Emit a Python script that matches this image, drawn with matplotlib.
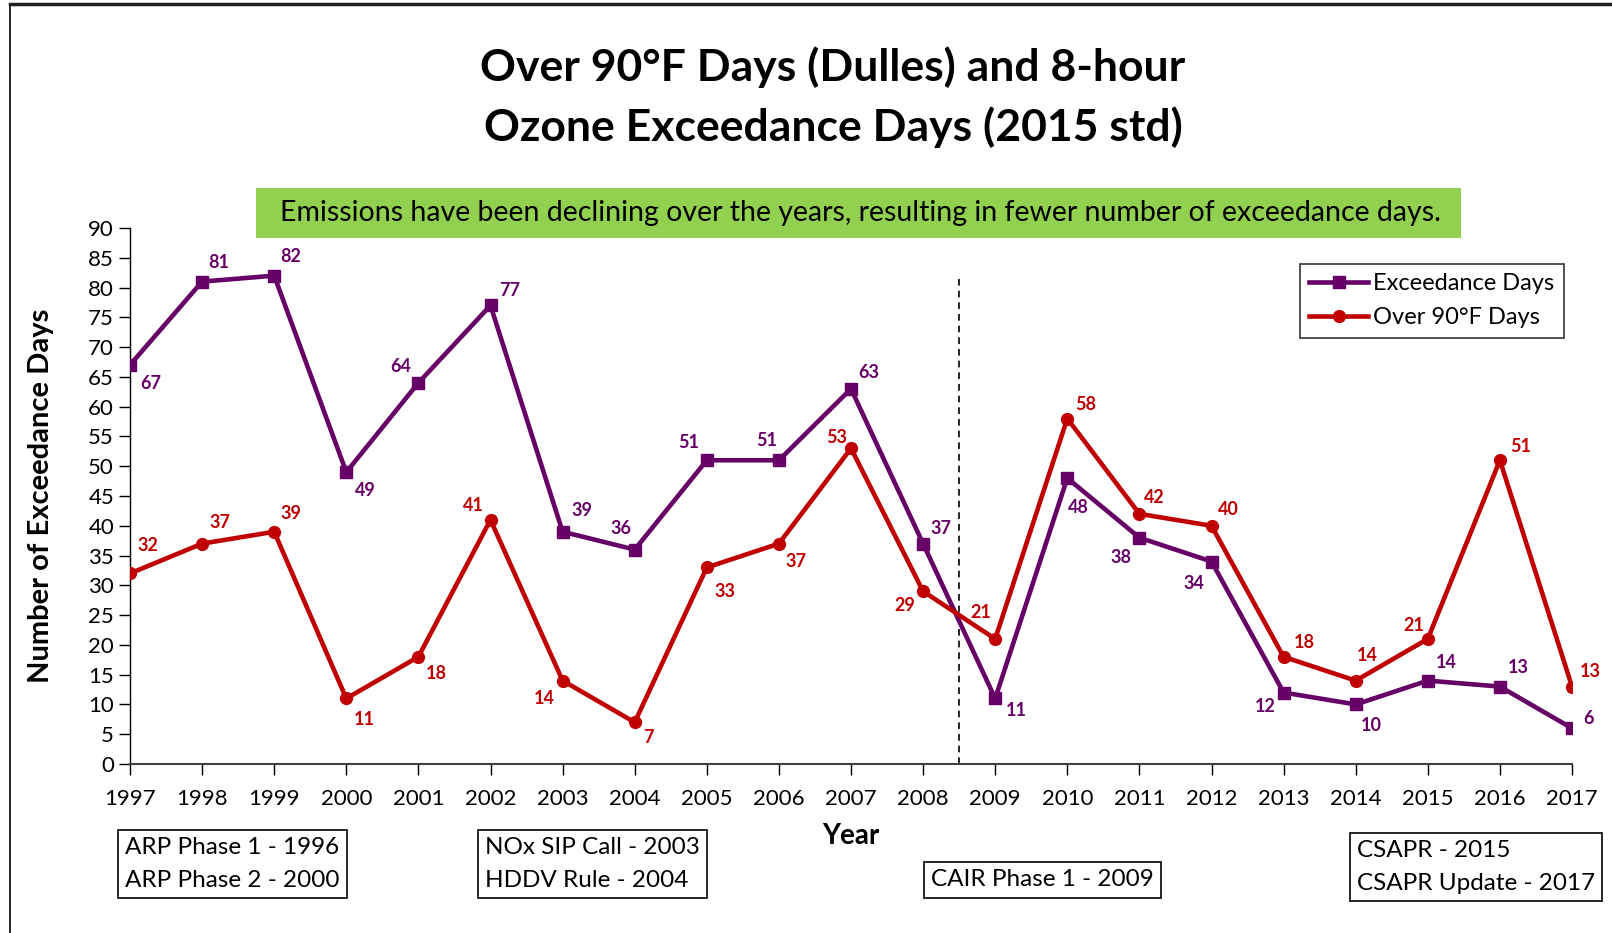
import matplotlib.pyplot as plt
from matplotlib.lines import Line2D

years = list(range(1997, 2018))
exceedance = [67, 81, 82, 49, 64, 77, 39, 36, 51, 51, 63, 37, 11, 48, 38, 34, 12, 10, 14, 13, 6]
over90 = [32, 37, 39, 11, 18, 41, 14, 7, 33, 37, 53, 29, 21, 58, 42, 40, 18, 14, 21, 51, 13]

# label offsets in points (dx, dy)
exc_off = [(15, -13), (12, 14), (12, 14), (14, -13), (-13, 12), (14, 11), (14, 15), (-10, 15),
           (-13, 13), (-9, 14), (13, 12), (13, 11), (15, -9), (8, -21), (-13, -14), (-13, -16),
           (-13, -10), (11, -15), (13, 13), (13, 14), (12, 7)]
hot_off = [(13, 20), (13, 15), (12, 13), (13, -15), (13, -12), (-12, 10), (-13, -13), (10, -11),
           (13, -17), (12, -13), (-10, 8), (-13, -10), (-10, 19), (13, 10), (11, 12), (12, 12),
           (15, 10), (8, 18), (-10, 10), (15, 10), (13, 11)]

regs = [("ARP Phase 1 - 1996\nARP Phase 2 - 2000", 125, 864),
        ("NOx SIP Call - 2003\nHDDV Rule - 2004", 485, 864),
        ("CAIR Phase 1 - 2009", 931, 880),
        ("CSAPR - 2015\nCSAPR Update - 2017", 1357, 867)]

purple = '#660066'
red = '#C00000'
plt.rcParams['font.family'] = ['Lato', 'DejaVu Sans']

fig = plt.figure(figsize=(16.12, 9.33), dpi=100)
ax = fig.add_axes([130 / 1612, 1 - 764 / 933, (1572 - 130) / 1612, (764 - 228) / 933])

ax.plot(years, exceedance, color=purple, lw=3.3, marker='s', ms=9, label='Exceedance Days', zorder=3)
ax.plot(years, over90, color=red, lw=3.3, marker='o', ms=8.5, label='Over 90°F Days', zorder=3)
ax.plot([2008.5, 2008.5], [0, 82], color='black', lw=1.2, ls=(0, (4, 3)))

for x, y, o in zip(years, exceedance, exc_off):
    ax.annotate(str(y), (x, y), xytext=o, textcoords='offset points', ha='center', va='center',
                color=purple, fontsize=13, fontweight='bold')
for x, y, o in zip(years, over90, hot_off):
    ax.annotate(str(y), (x, y), xytext=o, textcoords='offset points', ha='center', va='center',
                color=red, fontsize=13, fontweight='bold')

ax.set_xlim(1997, 2017)
ax.set_ylim(0, 90)
ax.set_yticks(range(0, 91, 5))
ax.set_xticks(years)
ax.tick_params(axis='both', labelsize=16, length=8, width=1, direction='out')
ax.tick_params(axis='x', pad=10)
for s in ['top', 'right']:
    ax.spines[s].set_visible(False)
ax.spines['left'].set_linewidth(1)
ax.spines['bottom'].set_linewidth(1.5)
ax.spines['bottom'].set_color('#404040')
ax.set_ylabel('Number of Exceedance Days', fontsize=21, fontweight='bold')
ax.yaxis.set_label_coords(-0.053, 0.5)

fig.text(851 / 1612, 1 - 836 / 933, 'Year', ha='center', va='center', fontsize=20, fontweight='bold')

fig.text(833 / 1612, 1 - 67 / 933, 'Over 90°F Days (Dulles) and 8-hour', ha='center', va='center',
         fontsize=32, fontweight='bold')
fig.text(833 / 1612, 1 - 127 / 933, 'Ozone Exceedance Days (2015 std)', ha='center', va='center',
         fontsize=32, fontweight='bold')

fig.patches.append(plt.Rectangle((256 / 1612, 1 - 238 / 933), (1461 - 256) / 1612, 50 / 933,
                                 transform=fig.transFigure, facecolor='#92D050', edgecolor='none'))
fig.text(860 / 1612, 1 - 213 / 933,
         'Emissions have been declining over the years, resulting in fewer number of exceedance days.',
         ha='center', va='center', fontsize=20.5)

handles = [Line2D([], [], color=purple, lw=3.3, marker='s', ms=9),
           Line2D([], [], color=red, lw=3.3, marker='o', ms=8.5)]
leg = ax.legend(handles, ['Exceedance Days', 'Over 90°F Days'], loc='upper left',
                bbox_to_anchor=(1300 / 1612, 1 - 264 / 933), bbox_transform=fig.transFigure,
                fontsize=17, frameon=True, fancybox=False, handlelength=2.5, handletextpad=0.2,
                borderpad=0.4, labelspacing=0.55, borderaxespad=0)
leg.get_frame().set_edgecolor('black')
leg.get_frame().set_linewidth(1.2)

for txt, x, y in regs:
    fig.text(x / 1612, 1 - y / 933, txt, ha='left', va='center', fontsize=17.5, linespacing=1.7,
             bbox=dict(boxstyle='square,pad=0.3', facecolor='white', edgecolor='black', lw=1.2))

# outer border
fig.add_artist(Line2D([10 / 1612, 10 / 1612], [0, 1 - 4 / 933], color='black', lw=1.2))
fig.add_artist(Line2D([10 / 1612, 1], [1 - 4 / 933, 1 - 4 / 933], color='#222222', lw=2.5))

fig.savefig('out.png', dpi=100)
